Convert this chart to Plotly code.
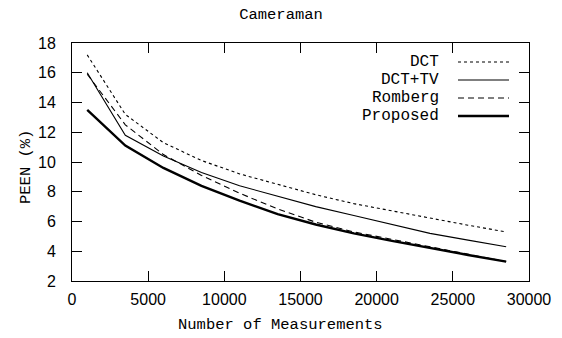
import plotly.graph_objects as go

# ---- data ----
measurements = [1000, 3500, 6000, 8500, 11000, 13500, 16000, 18500, 21000, 23500, 26000, 28500]
dct = [17.2, 13.2, 11.3, 10.1, 9.2, 8.5, 7.8, 7.2, 6.7, 6.2, 5.75, 5.3]
dct_tv = [16.0, 11.8, 10.4, 9.3, 8.4, 7.7, 7.0, 6.4, 5.8, 5.2, 4.75, 4.3]
romberg = [15.9, 12.5, 10.5, 9.1, 7.9, 6.85, 5.95, 5.3, 4.8, 4.3, 3.8, 3.3]
proposed = [13.5, 11.1, 9.6, 8.4, 7.4, 6.5, 5.8, 5.2, 4.7, 4.2, 3.75, 3.3]

series_names = ["DCT", "DCT+TV", "Romberg", "Proposed"]
series_vals = [dct, dct_tv, romberg, proposed]
x_ticks = [0, 5000, 10000, 15000, 20000, 25000, 30000]
y_ticks = [2, 4, 6, 8, 10, 12, 14, 16, 18]

# ---- styles ----
styles = [
    dict(color="black", width=1.1, dash="dot"),
    dict(color="black", width=1.1, dash="solid"),
    dict(color="black", width=1.1, dash="6px,4px"),
    dict(color="black", width=2.4, dash="solid"),
]
MONO = "Liberation Mono"
SANS = "Liberation Sans"

W, H = 562, 338
L, R, T, B = 72, 33, 43, 57
pw, ph = W - L - R, H - T - B

def px_x(p):
    return (p - L) / pw

def px_y(p):
    return (H - B - p) / ph

fig = go.Figure()
for name, vals, st in zip(series_names, series_vals, styles):
    fig.add_trace(go.Scatter(x=measurements, y=vals, mode="lines", name=name,
                             line=st, showlegend=False))

# custom legend: text on left, line sample on right
rows = [62, 80, 98, 116]
shapes = []
annotations = []
for name, st, py in zip(series_names, styles, rows):
    annotations.append(dict(x=px_x(441), y=px_y(py), xref="paper", yref="paper",
                            text=name, showarrow=False, xanchor="right", yanchor="middle",
                            font=dict(family=MONO, size=16, color="black")))
    shapes.append(dict(type="line", xref="paper", yref="paper",
                       x0=px_x(458), x1=px_x(509), y0=px_y(py), y1=px_y(py),
                       line=st))

# axis titles
annotations.append(dict(x=px_x(280), y=px_y(325), xref="paper", yref="paper",
                        text="Number of Measurements", showarrow=False,
                        xanchor="center", yanchor="middle",
                        font=dict(family=MONO, size=15.5, color="black")))
annotations.append(dict(x=px_x(26), y=px_y(167), xref="paper", yref="paper",
                        text="PEEN (%)", showarrow=False, textangle=-90,
                        xanchor="center", yanchor="middle",
                        font=dict(family=MONO, size=15.5, color="black")))

axis_common = dict(showgrid=False, zeroline=False, showline=True, linecolor="black",
                   linewidth=1, mirror="ticks", ticks="inside", ticklen=10,
                   tickcolor="black", tickwidth=1,
                   tickfont=dict(family=SANS, size=16, color="black"))

fig.update_layout(
    width=W, height=H,
    margin=dict(l=L, r=R, t=T, b=B),
    paper_bgcolor="white", plot_bgcolor="white",
    title=dict(text="Cameraman", x=0.5, xref="container", xanchor="center",
               y=1 - 14 / H, yref="container", yanchor="middle",
               font=dict(family=MONO, size=15.5, color="black")),
    xaxis=dict(range=[0, 30000], tickvals=x_ticks, ticktext=[str(v) for v in x_ticks],
               ticklabelstandoff=4, **axis_common),
    yaxis=dict(range=[2, 18], tickvals=y_ticks, ticktext=[str(v) for v in y_ticks],
               ticklabelstandoff=12, **axis_common),
    shapes=shapes,
    annotations=annotations,
)

fig.write_html("out.html")
